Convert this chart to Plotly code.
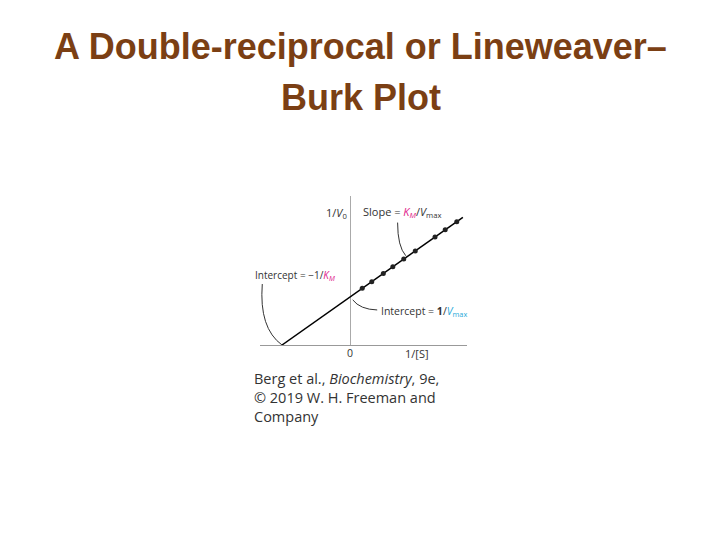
import plotly.graph_objects as go

# Data (arbitrary units: -1/KM = -1, 1/Vmax = 1)
inv_s = [0.18, 0.32, 0.49, 0.63, 0.79, 0.96, 1.25, 1.40, 1.57]
inv_v = [1.18, 1.32, 1.49, 1.63, 1.79, 1.96, 2.25, 2.40, 2.57]
fit_x = [-1.0, 1.66]
fit_y = [0.0, 2.66]

TXT = "#333333"
MAG = "#e0218a"
CYAN = "#1fa9d9"
BROWN = "#7b3f14"
FONT = "Open Sans"

OX, OY = 8, 8  # page body margin
def fx(p):
    return (p - OX) / 720
def fy(p):
    return 1 - (p - OY) / 540

fig = go.Figure()
fig.add_trace(go.Scatter(x=fit_x, y=fit_y, mode="lines",
                         line=dict(color="black", width=1.5),
                         hoverinfo="skip", showlegend=False))
fig.add_trace(go.Scatter(x=inv_s, y=inv_v, mode="markers",
                         marker=dict(color="#222222", size=5),
                         showlegend=False))

fig.update_xaxes(domain=[fx(260), fx(467)], range=[-1.3235, 1.7206],
                 showgrid=False, showticklabels=False, ticks="",
                 zeroline=True, zerolinecolor="#aaaaaa", zerolinewidth=1,
                 showline=True, linecolor="#999999", linewidth=1)
fig.update_yaxes(domain=[fy(345), fy(196)], range=[0, 3.104],
                 showgrid=False, showticklabels=False, ticks="",
                 zeroline=False, showline=False)

# leader curves
fig.add_shape(type="path", xref="x", yref="y",
              path="M 0.70,2.55 Q 0.70,2.05 0.82,1.86",
              line=dict(color="#333333", width=1))
fig.add_shape(type="path", xref="x", yref="y",
              path="M -1.29,1.27 Q -1.34,0.35 -1.0,0.0",
              line=dict(color="#333333", width=1))
fig.add_shape(type="path", xref="x", yref="y",
              path="M 0.40,0.73 Q 0.15,0.74 0.04,0.94",
              line=dict(color="#333333", width=1))

def ann(x, y, text, xanchor="left", size=10.5, **kw):
    fig.add_annotation(x=fx(x), y=fy(y), xref="paper", yref="paper", text=text,
                       showarrow=False, xanchor=xanchor, yanchor="middle",
                       font=dict(family=FONT, size=size, color=TXT), **kw)

ann(349, 213, "1/<i>V</i><sub>0</sub>", xanchor="right", size=11)
ann(361, 212, "Slope = <i><span style='color:%s'>K</span></i>"
    "<sub><span style='color:%s'><i>M</i></span></sub>/<i>V</i><sub>max</sub>" % (MAG, MAG), size=11)
ann(253, 276, "Intercept = −1/<i><span style='color:%s'>K</span></i>"
    "<sub><span style='color:%s'><i>M</i></span></sub>" % (MAG, MAG), size=10)
ann(379, 311, "Intercept = <b>1</b>/<i><span style='color:%s'>V</span></i>"
    "<sub><span style='color:%s'>max</span></sub>" % (CYAN, CYAN), size=10.5)
ann(350, 353, "0", xanchor="center")
ann(417, 353, "1/[S]", xanchor="center", size=11)

ann(252, 397, "Berg et al., <i>Biochemistry</i>, 9e,<br>© 2019 W. H. Freeman and<br>Company",
    size=14.5, align="left")

fig.add_annotation(x=fx(360), y=fy(46), xref="paper", yref="paper",
                   text="<b>A Double-reciprocal or Lineweaver–</b>", showarrow=False,
                   xanchor="center", yanchor="middle",
                   font=dict(family="Liberation Sans", size=36, color=BROWN))
fig.add_annotation(x=fx(361), y=fy(98), xref="paper", yref="paper",
                   text="<b>Burk Plot</b>", showarrow=False,
                   xanchor="center", yanchor="middle",
                   font=dict(family="Liberation Sans", size=36, color=BROWN))

fig.update_layout(width=720, height=540, margin=dict(l=0, r=0, t=0, b=0),
                  paper_bgcolor="white", plot_bgcolor="white")
fig.write_html("out.html")
